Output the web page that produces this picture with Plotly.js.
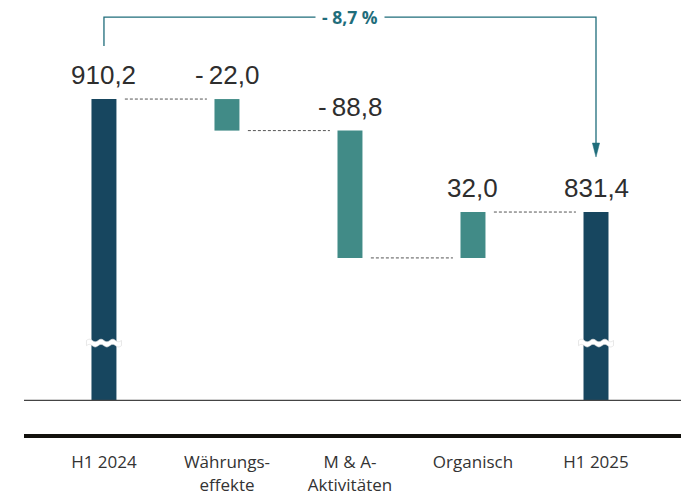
<!DOCTYPE html>
<html>
<head>
<meta charset="utf-8">
<script src="https://cdn.plot.ly/plotly-3.0.1.min.js"></script>
<style>
  html, body { margin: 0; padding: 0; background: #ffffff; }
  #chart { width: 681px; height: 496px; }
</style>
</head>
<body>
<div id="chart"></div>
<script>
// ---- data ----
const categories = ['H1 2024', 'Währungs-<br>effekte', 'M & A-<br>Aktivitäten', 'Organisch', 'H1 2025'];
const values = [910.2, -22.0, -88.8, 32.0, 831.4];
const isTotal = [true, false, false, false, true];
const valueLabels = ['910,2', '-\u200922,0', '-\u200988,8', '32,0', '831,4'];
const changeLabel = '- 8,7 %';

// ---- axis setup (broken value axis) ----
const AXIS_BASE = 700;      // value at the visible baseline
const BREAK_VALUE = 740;    // where the axis break marks sit
const X_RANGE = [-0.65, 4.691];
const Y_RANGE = [675.2, 975.8];
const M = { l: 24, r: 0, t: 5, b: 60 };
const W = 681, H = 496;
const XPX = (X_RANGE[1] - X_RANGE[0]) / (W - M.l - M.r);
const YPX = (Y_RANGE[1] - Y_RANGE[0]) / (H - M.t - M.b);

const DARK = '#17465f';
const TEAL = '#418b87';
const ACCENT = '#1f6d7b';

// ---- compute waterfall geometry from data ----
const xs = categories.map((_, i) => i);
const bases = [], heights = [], tops = [], ends = [];
let running = 0;
values.forEach((v, i) => {
  if (isTotal[i]) {
    bases.push(AXIS_BASE);
    heights.push(v - AXIS_BASE);
    running = v;
  } else {
    bases.push(running);
    heights.push(v);
    running = running + v;
  }
  tops.push(Math.max(bases[i], bases[i] + heights[i]));
  ends.push(running);
});

const barTrace = {
  type: 'bar',
  x: xs,
  y: heights,
  base: bases,
  width: 0.203,
  marker: { color: isTotal.map(t => t ? DARK : TEAL), line: { width: 0 } },
  hoverinfo: 'skip',
  showlegend: false
};

const cx = [], cy = [];
for (let i = 0; i < values.length - 1; i++) {
  cx.push(i + 0.17, i + 0.837, null);
  cy.push(ends[i], ends[i], null);
}
const connectorTrace = {
  type: 'scatter', mode: 'lines',
  x: cx, y: cy,
  line: { color: '#555555', width: 1, dash: '3px,2px' },
  hoverinfo: 'skip', showlegend: false
};

// ---- annotations ----
const annotations = values.map((v, i) => ({
  x: i, y: tops[i], xref: 'x', yref: 'y',
  text: valueLabels[i], showarrow: false,
  xanchor: 'center', yanchor: 'bottom', yshift: 7,
  font: { family: 'Liberation Sans, Arial, sans-serif', size: 26, color: '#2e2e2e' }
}));

const first = 0, last = values.length - 1;
const bracketTop = tops[first] + 82 * YPX;
const bracketLeftBottom = tops[first] + 53 * YPX;
const arrowTip = tops[last] + 55 * YPX;
const arrowHeadTop = arrowTip + 13 * YPX;

annotations.push({
  x: (first + last) / 2, y: bracketTop, xref: 'x', yref: 'y',
  text: '<b>' + changeLabel + '</b>', showarrow: false,
  xanchor: 'center', yanchor: 'middle',
  bgcolor: '#ffffff', borderpad: 6,
  font: { family: 'Open Sans, sans-serif', size: 17.5, color: ACCENT }
});

// ---- shapes ----
const shapes = [];
// baseline (thin)
shapes.push({ type: 'line', xref: 'paper', yref: 'y', x0: 0, x1: 1, y0: AXIS_BASE, y1: AXIS_BASE,
  line: { color: '#444444', width: 1.2 }, layer: 'above' });
// thick rule at bottom
shapes.push({ type: 'line', xref: 'paper', yref: 'paper', x0: 0, x1: 1, y0: 0, y1: 0,
  line: { color: '#12110d', width: 4 }, layer: 'above' });
// bracket
shapes.push({ type: 'path', xref: 'x', yref: 'y',
  path: `M ${first} ${bracketLeftBottom} L ${first} ${bracketTop} L ${last} ${bracketTop} L ${last} ${arrowHeadTop}`,
  line: { color: ACCENT, width: 1.3 }, layer: 'above' });
// arrow head
shapes.push({ type: 'path', xref: 'x', yref: 'y',
  path: `M ${last - 3.6 * XPX} ${arrowHeadTop + 1 * YPX} L ${last + 3.6 * XPX} ${arrowHeadTop + 1 * YPX} L ${last} ${arrowTip} Z`,
  fillcolor: ACCENT, line: { color: ACCENT, width: 0.5 }, layer: 'above' });

// axis break marks on total bars
function breakPath(xc) {
  const half = 17.5, thick = 2.6, amp = 1.3, waves = 3, n = 36;
  let top = [], bot = [];
  for (let k = 0; k <= n; k++) {
    const t = k / n;
    const px = -half + 2 * half * t;
    const w = amp * Math.sin(2 * Math.PI * waves * t);
    top.push([xc + px * XPX, BREAK_VALUE + (thick + w) * YPX]);
    bot.push([xc + px * XPX, BREAK_VALUE + (-thick + w) * YPX]);
  }
  bot.reverse();
  const pts = top.concat(bot);
  return 'M ' + pts.map(p => p[0].toFixed(5) + ' ' + p[1].toFixed(4)).join(' L ') + ' Z';
}
xs.forEach((x, i) => {
  if (isTotal[i]) {
    shapes.push({ type: 'path', xref: 'x', yref: 'y', path: breakPath(x),
      fillcolor: '#ffffff', line: { color: '#d8d8d8', width: 0.6 }, layer: 'above' });
  }
});

const layout = {
  width: W, height: H,
  margin: M,
  paper_bgcolor: '#ffffff', plot_bgcolor: '#ffffff',
  showlegend: false,
  xaxis: {
    range: X_RANGE, fixedrange: true,
    tickvals: xs, ticktext: categories,
    showgrid: false, zeroline: false, showline: false,
    ticks: 'outside', ticklen: 11, tickcolor: 'rgba(0,0,0,0)',
    tickfont: { family: 'Open Sans, sans-serif', size: 17, color: '#333333' }
  },
  yaxis: {
    range: Y_RANGE, fixedrange: true,
    showgrid: false, zeroline: false, showline: false, showticklabels: false, ticks: ''
  },
  annotations: annotations,
  shapes: shapes
};

Plotly.newPlot('chart', [barTrace, connectorTrace], layout, { staticPlot: true, displayModeBar: false });
</script>
</body>
</html>
